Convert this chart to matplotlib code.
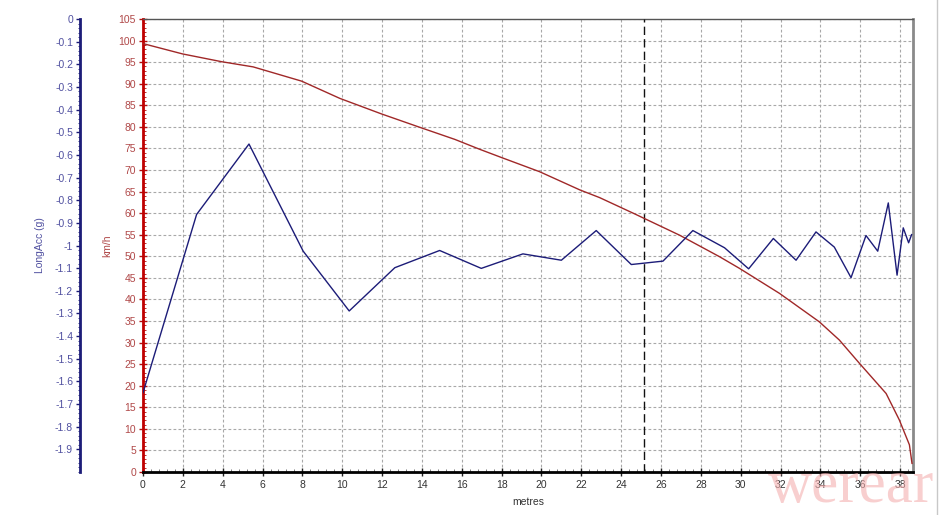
import matplotlib
matplotlib.use("Agg")
import matplotlib.pyplot as plt
from matplotlib.ticker import MultipleLocator, FuncFormatter
from matplotlib.lines import Line2D

plt.rcParams['font.family'] = ['Liberation Sans', 'DejaVu Sans']

# Speed trace (km/h) vs distance (metres)
speed_dist = [0.0, 1.99, 3.95, 5.53, 7.96, 9.88, 11.97, 13.89, 15.65, 16.9, 17.99,
              19.91, 21.92, 22.92, 24.6, 26.93, 28.94, 29.94, 31.95, 33.95, 34.95,
              35.96, 37.3, 37.96, 38.47, 38.6]
speed_kmh = [99.3, 96.9, 95.1, 93.9, 90.6, 86.6, 83.0, 79.9, 77.1, 74.8, 72.9,
             69.6, 65.4, 63.6, 60.0, 54.9, 49.9, 47.2, 41.4, 34.8, 30.6,
             25.2, 18.2, 12.1, 6.3, 2.0]

# Longitudinal acceleration (g) vs distance (metres)
acc_dist = [0.0, 2.69, 5.32, 8.04, 10.35, 12.64, 14.89, 16.98, 19.07, 21.0, 22.75,
            24.51, 26.1, 27.6, 29.19, 30.4, 31.64, 32.78, 33.78, 34.7, 35.54,
            36.29, 36.88, 37.41, 37.85, 38.16, 38.43, 38.58]
acc_g = [-1.65, -0.863, -0.552, -1.025, -1.289, -1.098, -1.022, -1.101, -1.037, -1.065, -0.934,
         -1.084, -1.069, -0.934, -1.010, -1.103, -0.969, -1.065, -0.940, -1.007, -1.142,
         -0.956, -1.025, -0.812, -1.131, -0.922, -0.988, -0.952]

cursor_x = 25.13

x_ticks = list(range(0, 39, 2))
kmh_ticks = list(range(0, 106, 5))
acc_ticks = [-i / 10 for i in range(0, 20)]

W, H = 941, 515
fig = plt.figure(figsize=(W / 100, H / 100), dpi=100)
fig.patch.set_facecolor('white')

L, R, T, B = 143, 913, 19, 472
ax = fig.add_axes([L / W, (H - B) / H, (R - L) / W, (B - T) / H])
ax2 = ax.twinx()

red = '#b01010'
navy = '#1c1c78'
tcol_red = '#b04848'
tcol_blue = '#5050a0'

# speed
ax.plot(speed_dist, speed_kmh, color='#a02828', lw=1.0, zorder=4)
ax.set_xlim(0, 38.65)
ax.set_ylim(0, 105)
ax.set_xticks(x_ticks)
ax.set_yticks(kmh_ticks)
ax.xaxis.set_minor_locator(MultipleLocator(0.4))
ax.yaxis.set_minor_locator(MultipleLocator(1))
ax.grid(True, which='major', color='#a8a8a8', ls=(0, (2.5, 2)), lw=0.8)
ax.axvline(cursor_x, color='#111111', lw=1.0, ls=(0, (6, 3)), zorder=3)

ax.tick_params(axis='y', which='major', direction='inout', length=6, width=1,
               colors=red, labelcolor=tcol_red, labelsize=7.5, pad=2)
ax.tick_params(axis='y', which='minor', direction='in', length=2, colors=red)
ax.tick_params(axis='x', which='major', direction='inout', length=6, width=1,
               colors='#222222', labelcolor='#333333', labelsize=7.5, pad=3)
ax.tick_params(axis='x', which='minor', direction='in', length=2.5, colors='#666666')

for s, c, w in [('left', '#c00000', 2.0), ('bottom', '#000000', 2.0),
                ('top', '#555555', 1.0), ('right', '#8a8a8a', 2.0)]:
    ax.spines[s].set_color(c)
    ax.spines[s].set_linewidth(w)

ax.set_ylabel('km/h', color=tcol_red, fontsize=7.5)
ax.yaxis.set_label_coords(-0.040, 0.5)
ax.set_xlabel('metres', color='#333333', fontsize=7.5)
ax.xaxis.set_label_coords(0.5, -0.055)

# acceleration
ax2.plot(acc_dist, acc_g, color=navy, lw=1.0, zorder=5)
ax2.set_ylim(-2.0, 0)
ax2.set_yticks(acc_ticks)
ax2.yaxis.set_minor_locator(MultipleLocator(0.02))
ax2.yaxis.tick_left()
ax2.yaxis.set_label_position('left')
ax2.yaxis.set_major_formatter(FuncFormatter(lambda v, p: f"{v:g}" if abs(v) > 1e-9 else "0"))
for s in ['top', 'right', 'bottom']:
    ax2.spines[s].set_visible(False)
ax2.spines['left'].set_position(('outward', 63 * 0.72))
ax2.spines['left'].set_color(navy)
ax2.spines['left'].set_linewidth(2.0)
ax2.tick_params(axis='y', which='major', direction='out', length=3, width=1,
                colors=navy, labelcolor=tcol_blue, labelsize=7.5, pad=2)
ax2.tick_params(axis='y', which='minor', direction='out', length=1.5, colors=navy)
ax2.set_ylabel('LongAcc (g)', color=tcol_blue, fontsize=7.5)
ax2.yaxis.set_label_coords(-0.127, 0.5)

# right-edge border line of the screenshot
fig.add_artist(Line2D([937 / W, 937 / W], [0, 1], transform=fig.transFigure,
                      color='#c8c8c8', lw=1.0))

# watermark
fig.text(768 / W, (H - 502) / H, 'werear', fontsize=44, family='Liberation Serif',
         color='#f4b0b0', alpha=0.6, va='baseline', ha='left')

fig.savefig('out.png', dpi=100, facecolor='white')
